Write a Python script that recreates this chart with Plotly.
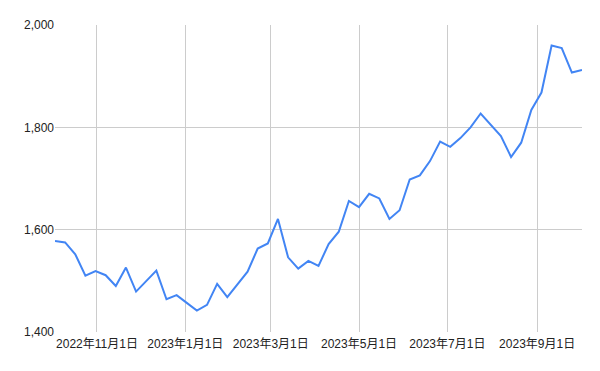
import plotly.graph_objects as go
import pandas as pd

start_date = "2022-10-03"
n_weeks = 53
values = [1578, 1575, 1552, 1510, 1519, 1511, 1490, 1526, 1479, 1499,
          1520, 1464, 1472, 1457, 1442, 1453, 1494, 1468, 1493, 1518,
          1563, 1573, 1621, 1546, 1524, 1539, 1529, 1572, 1596, 1656,
          1644, 1670, 1661, 1621, 1638, 1698, 1706, 1734, 1772, 1762,
          1779, 1800, 1827, 1806, 1783, 1742, 1770, 1834, 1868, 1960,
          1955, 1907, 1912]
dates = pd.date_range(start_date, periods=n_weeks, freq="7D")

x_tick_vals = ["2022-11-01", "2023-01-01", "2023-03-01", "2023-05-01", "2023-07-01", "2023-09-01"]
x_tick_text = ["2022年11月1日", "2023年1月1日", "2023年3月1日", "2023年5月1日", "2023年7月1日", "2023年9月1日"]
y_tick_vals = [1400, 1600, 1800, 2000]
y_tick_text = ["1,400", "1,600", "1,800", "2,000"]

fig = go.Figure(go.Scatter(
    x=dates, y=values, mode="lines",
    line=dict(color="#4285F4", width=2),
    hoverinfo="skip",
))

font_family = "Liberation Sans, Arial, Noto Sans CJK JP, sans-serif"
fig.update_layout(
    width=600, height=371,
    margin=dict(l=55, r=18, t=25, b=39),
    paper_bgcolor="white", plot_bgcolor="white",
    showlegend=False,
    font=dict(family=font_family, size=12, color="#222222"),
    xaxis=dict(
        range=[dates[0], dates[-1]],
        tickvals=x_tick_vals, ticktext=x_tick_text,
        showgrid=True, gridcolor="#cccccc", gridwidth=1,
        zeroline=False, showline=False, ticks="",
        ticklabelstandoff=3,
        tickfont=dict(size=12, color="#222222"),
    ),
    yaxis=dict(
        range=[1400, 2000],
        tickvals=y_tick_vals, ticktext=y_tick_text,
        showgrid=True, gridcolor="#cccccc", gridwidth=1,
        zeroline=False, showline=False, ticks="",
        ticklen=0,
        tickfont=dict(size=12, color="#222222"),
    ),
)

fig.write_html("out.html")
